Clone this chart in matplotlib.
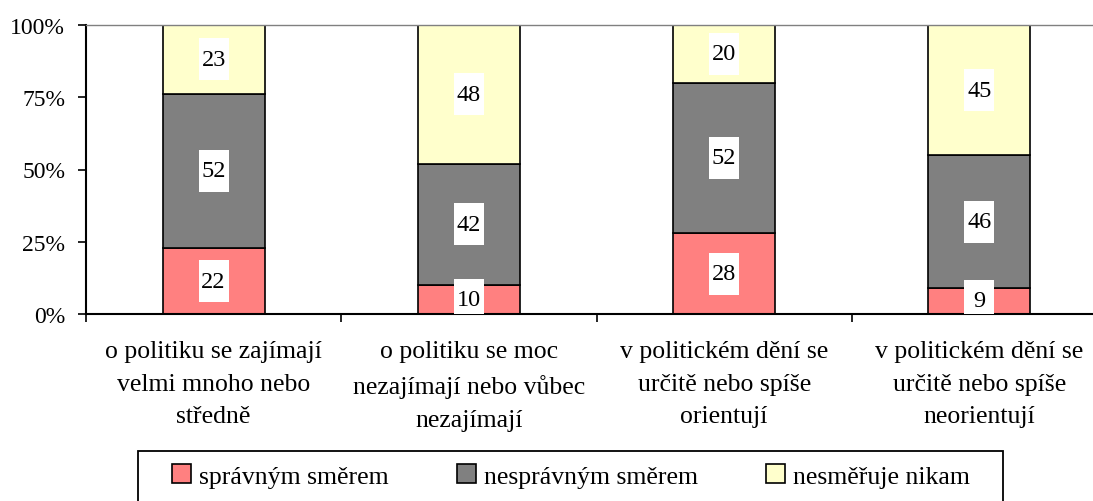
import matplotlib
matplotlib.use("Agg")
import matplotlib.pyplot as plt
import numpy as np
from matplotlib.patches import Rectangle

categories = [
    "o politiku se zajímají\nvelmi mnoho nebo\nstředně",
    "o politiku se moc\nnezajímají nebo vůbec\nnezajímají",
    "v politickém dění se\nurčitě nebo spíše\norientují",
    "v politickém dění se\nurčitě nebo spíše\nneorientují",
]
series_names = ["správným směrem", "nesprávným směrem", "nesměřuje nikam"]
spravnym = [22, 10, 28, 9]
nespravnym = [52, 42, 52, 46]
nesmeruje = [23, 48, 20, 45]
colors = ["#FF8080", "#808080", "#FFFFCC"]
ytick_labels = ["0%", "25%", "50%", "75%", "100%"]

plt.rcParams["font.family"] = ["Liberation Serif", "DejaVu Serif"]

W, H = 1093, 502
fig = plt.figure(figsize=(W / 100, H / 100), dpi=100)
ax = fig.add_axes([86 / W, 1 - 315 / H, (1107 - 86) / W, (315 - 26) / H])

data = np.array([spravnym, nespravnym, nesmeruje], dtype=float)
totals = data.sum(axis=0)
pct = data / totals * 100
x = np.arange(len(categories))
bw = 0.4
bottom = np.zeros(len(categories))
for i, name in enumerate(series_names):
    ax.bar(x, pct[i], bw, bottom=bottom, color=colors[i], edgecolor="black",
           linewidth=1.2, label=name, zorder=2)
    centers = bottom + pct[i] / 2
    for xi, c, v in zip(x, centers, data[i]):
        box_h = 42 / 289 * 100
        box_w = 30 / 255
        ax.add_patch(Rectangle((xi - box_w / 2, c - box_h / 2), box_w, box_h,
                               facecolor="white", edgecolor="none", zorder=3))
        ax.text(xi, c, f"{int(v)}", ha="center", va="center", fontsize=17.5,
                zorder=4)
    bottom += pct[i]

ax.set_xlim(-0.5, len(categories) - 0.5)
ax.set_ylim(0, 100)
ax.set_yticks([0, 25, 50, 75, 100])
ax.set_yticklabels(ytick_labels, fontsize=17)
ax.tick_params(axis="y", direction="out", length=6, width=1.2, pad=9)

ax.set_xticks(np.arange(-0.5, len(categories), 1.0))
ax.set_xticklabels([])
ax.tick_params(axis="x", which="major", direction="out", length=6, width=1.2)
ax.set_xticks(x, minor=True)
ax.set_xticklabels(categories, minor=True, fontsize=18.5, linespacing=1.62)
ax.tick_params(axis="x", which="minor", length=0, pad=19)

for s in ["left", "bottom"]:
    ax.spines[s].set_linewidth(1.5)
    ax.spines[s].set_color("black")
ax.spines["right"].set_visible(False)
ax.spines["top"].set_color("#808080")
ax.spines["top"].set_linewidth(1.0)

# legend
handles, labels = ax.get_legend_handles_labels()
leg = fig.legend(handles, labels, loc="center", ncol=3,
                 bbox_to_anchor=(571 / W, 1 - 477 / H), frameon=False,
                 fontsize=18.5, handlelength=0.75, handleheight=0.75,
                 handletextpad=0.3, columnspacing=2.65, borderpad=0)
fig.patches.append(Rectangle((138 / W, 1 - 520 / H), (1003 - 138) / W, (520 - 452) / H,
                             transform=fig.transFigure, facecolor="none",
                             edgecolor="black", linewidth=1.3))

fig.savefig("out.png", dpi=100)
